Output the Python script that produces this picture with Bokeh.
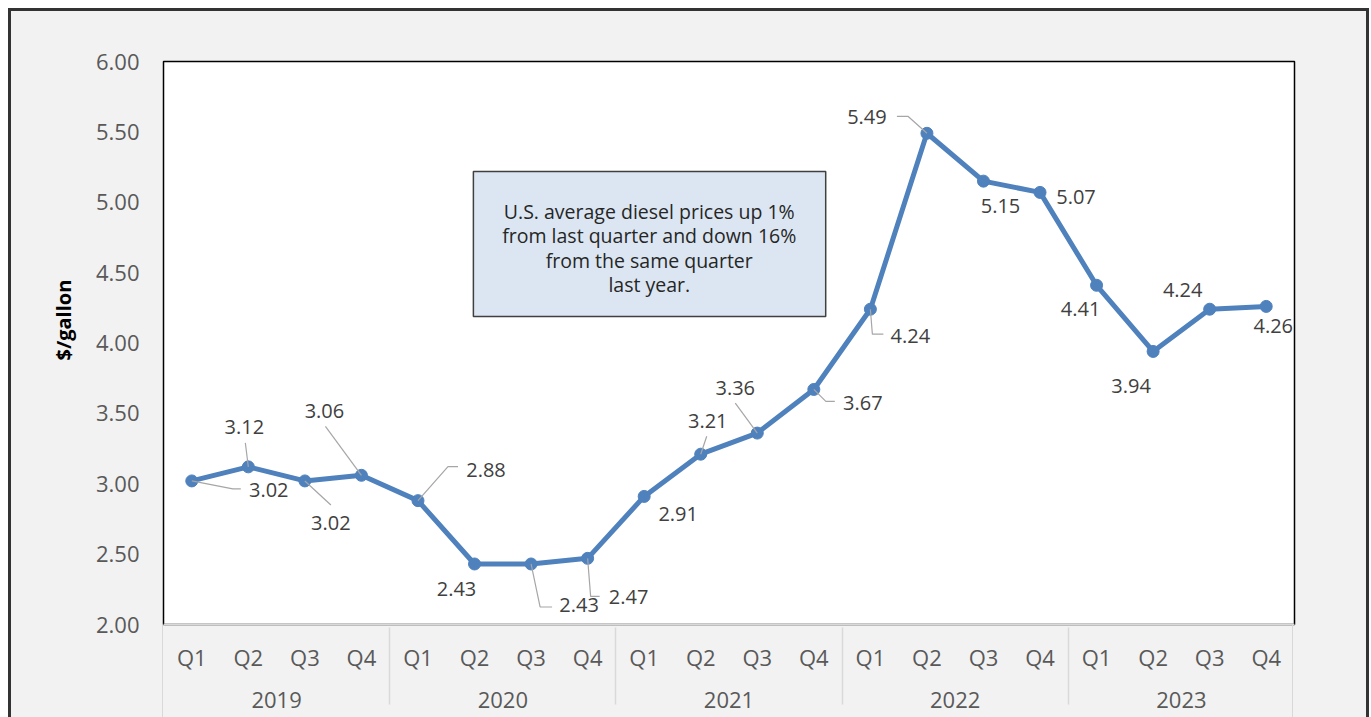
from bokeh.plotting import figure
from bokeh.models import (FactorRange, ColumnDataSource, FixedTicker, Label,
                          BoxAnnotation, NumeralTickFormatter, InlineStyleSheet,
                          Title)
from bokeh.core.properties import value
from bokeh.embed import file_html
from bokeh.resources import INLINE

# ---------------- data ----------------
years = ["2019", "2020", "2021", "2022", "2023"]
quarters = ["Q1", "Q2", "Q3", "Q4"]
prices = [3.02, 3.12, 3.02, 3.06,
          2.88, 2.43, 2.43, 2.47,
          2.91, 3.21, 3.36, 3.67,
          4.24, 5.49, 5.15, 5.07,
          4.41, 3.94, 4.24, 4.26]
y_ticks = [2.0, 2.5, 3.0, 3.5, 4.0, 4.5, 5.0, 5.5, 6.0]
y_title = "$/gallon"
note_text = ("U.S. average diesel prices up 1%\n"
             "from last quarter and down 16%\n"
             "from the same quarter\n"
             "last year.")

# ---------------- styling / label placement (pixels) ----------------
label_dx = [77, -4, 26, -37, 68, -18, 48, 41, 34, 7, -22, 49, 40, -60, 17, 36, -16, -22, -27, 7]
label_dy = [9, -40, 42, -64, -31, 25, 41, 39, 18, -33, -45, 14, 27, -16, 25, 5, 24, 35, -19, 20]
leaders = [
    [(0, 0), (41, 8), (49, 8)],
    [(0, 0), (-3, -24)],
    [(0, 0), (26, 24)],
    [(0, 0), (-36, -49)],
    [(0, 0), (30, -34), (40, -34)],
    None,
    [(0, 0), (9, 43), (21, 43)],
    [(0, 0), (3, 38), (12, 38)],
    None,
    [(0, 0), (6, -18)],
    [(0, 0), (-22, -30)],
    [(0, 0), (12, 12), (21, 12)],
    [(0, 0), (2, 25), (13, 25)],
    [(0, 0), (-19, -17), (-30, -17)],
    None, None, None, None, None, None,
]

W, H = 1371, 717
BL, BR, BT, BB = 163, 77, 61, 93
FW, FH = W - BL - BR, H - BT - BB

factors = [(yr, q) for yr in years for q in quarters]
n = len(factors)
ymin, ymax = y_ticks[0], y_ticks[-1]
px_x = FW / n
px_y = FH / (ymax - ymin)

x_range = FactorRange(factors=factors, factor_padding=0, group_padding=0,
                      range_padding=0)

css = InlineStyleSheet(css=f"""
:host {{ position: relative; }}
:host::after {{
  content: ""; position: absolute; left: 8px; top: 8px; right: 2px; bottom: -30px;
  border: 3px solid #333333; outline: 9px solid white; box-sizing: border-box;
  pointer-events: none; z-index: 20;
}}
:host::before {{
  content: ""; position: absolute; left: {BL - 1}px; top: {H - BB + 1}px;
  width: {FW}px; bottom: 0px; border-left: 1.5px solid #d9d9d9;
  border-right: 1.5px solid #d9d9d9; box-sizing: border-box;
  pointer-events: none; z-index: 10;
}}
""")

p = figure(width=W, height=H, x_range=x_range, y_range=(ymin, ymax),
           output_backend="svg", toolbar_location=None,
           min_border_left=BL, min_border_right=BR,
           min_border_top=BT, min_border_bottom=BB)
p.stylesheets = [css]

p.background_fill_color = "white"
p.border_fill_color = "#f2f2f2"
p.outline_line_color = "black"
p.outline_line_width = 1.5
p.grid.visible = False

FONT = "Open Sans"

# y axis
ya = p.yaxis[0]
ya.ticker = FixedTicker(ticks=y_ticks)
ya.formatter = NumeralTickFormatter(format="0.00")
ya.major_tick_line_color = None
ya.minor_tick_line_color = None
ya.major_tick_out = 0
ya.major_tick_in = 0
ya.axis_line_color = None
ya.major_label_standoff = 24
ya.major_label_text_font = FONT
ya.major_label_text_font_size = "22px"
ya.major_label_text_color = "#595959"

# y title as a side title, shifted up along the axis like the original
p.add_layout(Title(text=y_title, align="left", offset=264, standoff=31,
                   text_font=FONT, text_font_size="20px",
                   text_font_style="bold", text_color="black"), "left")

# x axis (nested categories)
xa = p.xaxis[0]
xa.major_tick_line_color = None
xa.major_tick_out = 0
xa.major_tick_in = 0
xa.axis_line_color = "#d9d9d9"
xa.axis_line_width = 1.5
xa.major_label_standoff = 17
xa.major_label_text_font = FONT
xa.major_label_text_font_size = "22px"
xa.major_label_text_color = "#595959"
xa.group_text_font = FONT
xa.group_text_font_size = "22px"
xa.group_text_font_style = "normal"
xa.group_text_color = "#595959"
xa.separator_line_color = "#d9d9d9"
xa.separator_line_width = 1.5

# line + markers
src = ColumnDataSource(dict(x=factors, y=prices,
                            lbl=["%.2f" % v for v in prices],
                            dx=label_dx, dy=label_dy))
p.line(x="x", y="y", source=src, line_color="#4f81bd", line_width=5)
p.scatter(x="x", y="y", source=src, size=12, fill_color="#4f81bd",
          line_color="#4f81bd")

# leader lines (pixel offsets converted through the figure's scale)
lx, ly = [], []
for i, path in enumerate(leaders):
    if not path:
        continue
    cx = i + 0.5
    lx.append([cx + dx / px_x for dx, dy in path])
    ly.append([prices[i] - dy / px_y for dx, dy in path])
p.multi_line(xs=lx, ys=ly, line_color="#a6a6a6", line_width=1.2)

# data labels
p.text(x="x", y="y", text="lbl", source=src, x_offset="dx", y_offset="dy",
       text_align="center", text_baseline="middle",
       text_font=value(FONT), text_font_size="20px", text_color="#404040")

# note box
p.add_layout(BoxAnnotation(left=5.48, right=11.71, top=5.218, bottom=4.188,
                           fill_color="#dce6f2", fill_alpha=1.0,
                           line_color="#404040", line_alpha=1.0,
                           line_width=1.5, level="underlay"))
p.add_layout(Label(x=8.59, y=4.675, text=note_text, text_align="center",
                   text_baseline="middle", text_font=FONT,
                   text_font_size="19.5px", text_color="#262626",
                   text_line_height=0.9))

open("out.html", "w").write(file_html(p, INLINE))
